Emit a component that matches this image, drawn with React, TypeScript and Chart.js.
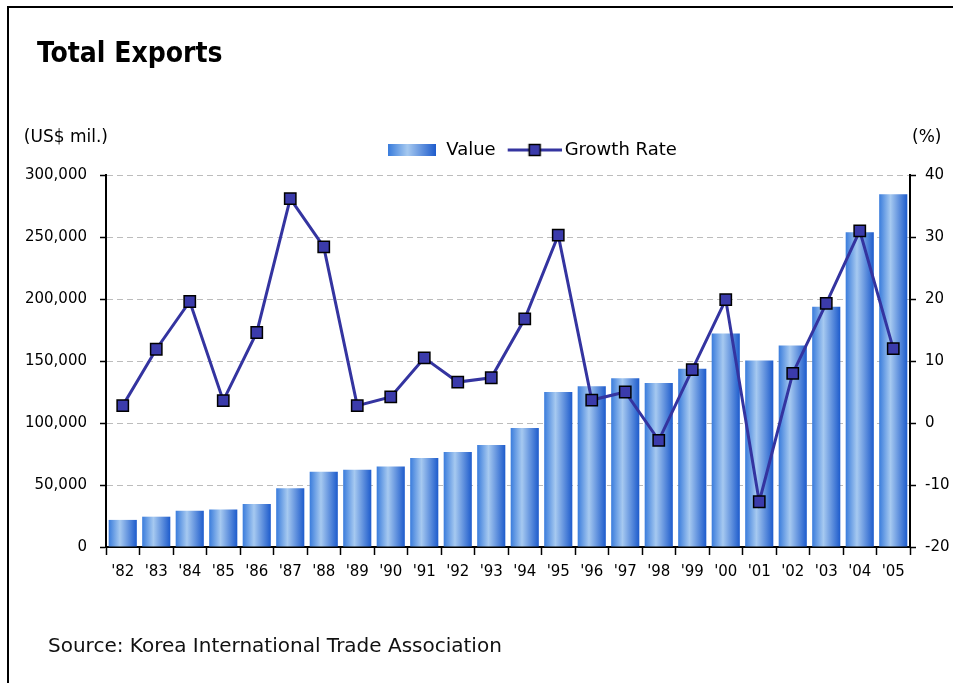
import React, { useEffect, useRef } from 'react';
import { Chart, registerables } from 'chart.js';

Chart.register(...registerables);

const titleText = 'Total Exports';
const sourceText = 'Source: Korea International Trade Association';
const leftUnit = '(US$ mil.)';
const rightUnit = '(%)';
const valueLabel = 'Value';
const growthLabel = 'Growth Rate';

const years = ["'82", "'83", "'84", "'85", "'86", "'87", "'88", "'89", "'90", "'91", "'92", "'93", "'94", "'95", "'96", "'97", "'98", "'99", "'00", "'01", "'02", "'03", "'04", "'05"];
const exportValues = [21853, 24445, 29245, 30283, 34715, 47281, 60696, 62377, 65016, 71870, 76632, 82236, 96013, 125058, 129715, 136164, 132313, 143685, 172268, 150439, 162470, 193817, 253845, 284419];
const growthRates = [2.8, 11.9, 19.6, 3.6, 14.6, 36.2, 28.4, 2.8, 4.2, 10.5, 6.6, 7.3, 16.8, 30.3, 3.7, 5.0, -2.8, 8.6, 19.9, -12.7, 8.0, 19.3, 31.0, 12.0];

const leftTickValues = [0, 50000, 100000, 150000, 200000, 250000, 300000];
const leftTickLabels = ['0', '50,000', '100,000', '150,000', '200,000', '250,000', '300,000'];
const rightTickValues = [-20, -10, 0, 10, 20, 30, 40];
const rightTickLabels = ['-20', '-10', '0', '10', '20', '30', '40'];

const FONT = "'DejaVu Sans', sans-serif";
const CANVAS_W = 1064;
const CANVAS_H = 683;
const BAR_PCT = 0.84;
const LINE_COLOR = '#3434a0';
const MARKER_FILL = '#3b3bab';
const TEXT_COLOR = '#000';

function addBarStops(g: CanvasGradient) {
  g.addColorStop(0, '#3a7cdc');
  g.addColorStop(0.4, '#a6c9f0');
  g.addColorStop(1, '#1d5bcc');
}

function makeValueIcon(): HTMLCanvasElement {
  const c = document.createElement('canvas');
  c.width = 48;
  c.height = 12;
  const g = c.getContext('2d')!;
  const grad = g.createLinearGradient(0, 0, 48, 0);
  addBarStops(grad);
  g.fillStyle = grad;
  g.fillRect(0, 0, 48, 12);
  return c;
}

function makeGrowthIcon(): HTMLCanvasElement {
  const c = document.createElement('canvas');
  c.width = 62;
  c.height = 14;
  const g = c.getContext('2d')!;
  g.strokeStyle = LINE_COLOR;
  g.lineWidth = 3;
  g.beginPath();
  g.moveTo(8, 7);
  g.lineTo(62, 7);
  g.stroke();
  g.fillStyle = MARKER_FILL;
  g.fillRect(29.5, 1.5, 11, 11);
  g.strokeStyle = '#000';
  g.lineWidth = 1.5;
  g.strokeRect(29.5, 1.5, 11, 11);
  return c;
}

const unitPlugin = {
  id: 'unitLabels',
  afterDraw(chart: any) {
    const { ctx, chartArea } = chart;
    ctx.save();
    ctx.font = `17px ${FONT}`;
    ctx.fillStyle = TEXT_COLOR;
    ctx.textBaseline = 'middle';
    ctx.textAlign = 'right';
    ctx.fillText(leftUnit, chartArea.left + 2, chartArea.top - 37);
    ctx.textAlign = 'left';
    ctx.fillText(rightUnit, chartArea.right + 2, chartArea.top - 37);
    ctx.restore();
  },
};

export default function App() {
  const ref = useRef<HTMLCanvasElement>(null);

  useEffect(() => {
    const canvas = ref.current;
    if (!canvas) return;
    Chart.defaults.font.family = FONT;
    const valueIcon = makeValueIcon();
    const growthIcon = makeGrowthIcon();

    const barColor = (c: any) => {
      const chart = c.chart;
      const xs = chart.scales && chart.scales.x;
      if (!chart.chartArea || !xs || c.type !== 'data') return '#6f9fe3';
      const cx = xs.getPixelForValue(c.dataIndex);
      const bw = (xs.width / years.length) * BAR_PCT;
      const grad = chart.ctx.createLinearGradient(cx - bw / 2, 0, cx + bw / 2, 0);
      addBarStops(grad);
      return grad;
    };

    const chart = new Chart(canvas, {
      type: 'bar',
      data: {
        labels: years,
        datasets: [
          {
            type: 'bar',
            label: valueLabel,
            data: exportValues,
            yAxisID: 'y',
            xAxisID: 'x',
            backgroundColor: barColor,
            borderWidth: 0,
            barPercentage: BAR_PCT,
            categoryPercentage: 1,
            order: 2,
          } as any,
          {
            type: 'line',
            label: growthLabel,
            data: growthRates,
            yAxisID: 'y1',
            xAxisID: 'x',
            borderColor: LINE_COLOR,
            borderWidth: 3,
            pointStyle: 'rect',
            pointRadius: 8,
            pointBackgroundColor: MARKER_FILL,
            pointBorderColor: '#000',
            pointBorderWidth: 1.5,
            tension: 0,
            fill: false,
            order: 1,
          } as any,
        ],
      },
      options: {
        responsive: false,
        animation: false,
        devicePixelRatio: 1,
        events: [],
        layout: { padding: { top: 131, bottom: 96, left: 0, right: 0 } },
        plugins: {
          tooltip: { enabled: false },
          title: { display: false },
          legend: {
            display: true,
            position: 'top',
            align: 'center',
            labels: {
              usePointStyle: true,
              pointStyleWidth: 50,
              boxHeight: 12,
              padding: 10,
              color: TEXT_COLOR,
              font: { size: 18, family: FONT },
              generateLabels: () => [
                { text: valueLabel, pointStyle: valueIcon, fillStyle: '#6f9fe3', strokeStyle: 'rgba(0,0,0,0)', lineWidth: 0, hidden: false, datasetIndex: 0 } as any,
                { text: growthLabel, pointStyle: growthIcon, fillStyle: MARKER_FILL, strokeStyle: 'rgba(0,0,0,0)', lineWidth: 0, hidden: false, datasetIndex: 1 } as any,
              ],
            },
          },
        },
        scales: {
          x: {
            type: 'category',
            position: 'bottom',
            offset: true,
            grid: { offset: true, drawOnChartArea: false, drawTicks: true, tickLength: 8, tickColor: '#000', tickWidth: 1.5 },
            border: { display: true, color: '#000', width: 2 },
            ticks: { color: TEXT_COLOR, font: { size: 15, family: FONT }, padding: 8, maxRotation: 0, minRotation: 0, autoSkip: false },
            afterFit: (s: any) => { s.height = 40; },
          },
          xt: {
            type: 'category',
            position: 'top',
            labels: years,
            grid: { display: false, drawTicks: false },
            border: { display: false },
            ticks: { display: false },
            afterFit: (s: any) => { s.height = 6; },
          },
          y: {
            type: 'linear',
            position: 'left',
            min: 0,
            max: 300000,
            ticks: {
              stepSize: 50000,
              color: TEXT_COLOR,
              font: { size: 15, family: FONT },
              padding: 13,
              callback: (v: any) => {
                const i = leftTickValues.indexOf(Number(v));
                return i >= 0 ? leftTickLabels[i] : '';
              },
            },
            grid: {
              color: (c: any) => (c.tick && c.tick.value === 0 ? 'rgba(0,0,0,0)' : '#bcbcbc'),
              lineWidth: 1,
              drawTicks: true,
              tickLength: 6,
              tickColor: '#000',
              tickWidth: 1.5,
            },
            border: { display: true, color: '#000', width: 2, dash: [6, 4] },
            afterFit: (s: any) => { s.width = 106; },
          },
          y1: {
            type: 'linear',
            position: 'right',
            min: -20,
            max: 40,
            ticks: {
              stepSize: 10,
              color: TEXT_COLOR,
              font: { size: 15, family: FONT },
              padding: 9,
              callback: (v: any) => {
                const i = rightTickValues.indexOf(Number(v));
                return i >= 0 ? rightTickLabels[i] : '';
              },
            },
            grid: { drawOnChartArea: false, drawTicks: true, tickLength: 6, tickColor: '#000', tickWidth: 1.5 },
            border: { display: true, color: '#000', width: 2 },
            afterFit: (s: any) => { s.width = CANVAS_W - 910; },
          },
        },
      } as any,
      plugins: [unitPlugin],
    });
    return () => chart.destroy();
  }, []);

  return (
    <div style={{ position: 'fixed', left: 0, top: 0, width: 953, height: 683, overflow: 'hidden', background: '#fff' }}>
      <div style={{ position: 'absolute', left: 7, top: 6, width: 2000, height: 2000, borderLeft: '2px solid #000', borderTop: '2px solid #000' }} />
      <canvas ref={ref} width={CANVAS_W} height={CANVAS_H} style={{ position: 'absolute', left: 0, top: 0, width: CANVAS_W, height: CANVAS_H }} />
      <div style={{ position: 'absolute', left: 37, top: 39, fontFamily: "'DejaVu Sans Condensed', 'DejaVu Sans', sans-serif", fontWeight: 'bold', fontSize: 28, lineHeight: '28px', whiteSpace: 'nowrap', color: '#000' }}>{titleText}</div>
      <div style={{ position: 'absolute', left: 48, top: 635, fontFamily: FONT, fontSize: 20, lineHeight: '20px', whiteSpace: 'nowrap', color: '#111' }}>{sourceText}</div>
    </div>
  );
}
